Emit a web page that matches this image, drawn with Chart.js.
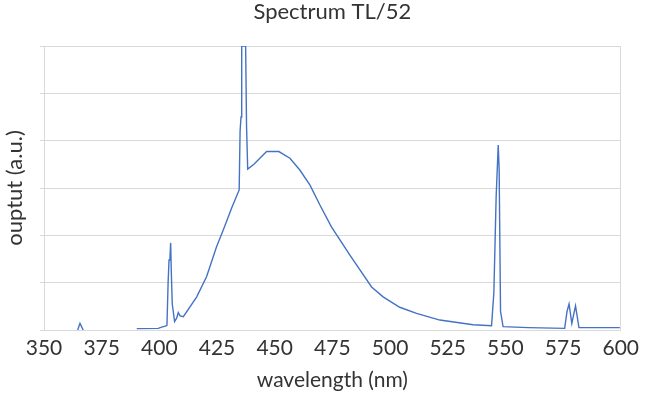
<!DOCTYPE html>
<html>
<head>
<meta charset="utf-8">
<script src="https://cdn.jsdelivr.net/npm/chart.js@4"></script>
<style>
    html, body { margin: 0; padding: 0; background: #fff; }
    #wrap { width: 645px; height: 398px; }
</style>
</head>
<body>
<div id="wrap"><canvas id="spectrumChart"></canvas></div>
<script>
// Spectrum TL/52
const wavelength = [
    364.6, 365.6, 367.0, 378,
    390.2, 399.5, 401.0, 402.6, 403.3, 403.8, 404.2, 404.6, 404.9, 405.2, 405.6, 406.6,
    407.5, 408.2, 409.0, 410.4, 416.2, 420.5, 424.8, 428.0, 431.3, 434.6,
    435.0, 435.4, 435.7, 437.4, 437.8, 438.3,
    441.0, 446.5, 451.8, 456.6, 460.9, 465.3, 469.6, 474.6, 482.6, 492.0, 497.0,
    504.2, 511.5, 521.6, 536.0, 544.0,
    545.0, 546.0, 546.9, 547.3, 547.9, 549.0, 560.0, 575.7,
    576.7, 577.6, 578.8, 580.4, 581.9, 599.6
];
const output = [
    0, 0.14, 0, null,
    0.03, 0.035, 0.06, 0.08, 0.10, 1.0, 1.48, 1.52, 1.84, 1.2, 0.55, 0.18,
    0.25, 0.37, 0.30, 0.28, 0.70, 1.13, 1.76, 2.15, 2.57, 2.96,
    4.2, 4.5, 6, 6, 4.3, 3.4,
    3.5, 3.77, 3.77, 3.63, 3.38, 3.06, 2.64, 2.18, 1.58, 0.91, 0.70,
    0.48, 0.35, 0.21, 0.11, 0.09,
    0.78, 2.82, 3.91, 3.38, 0.39, 0.07, 0.05, 0.035,
    0.39, 0.55, 0.14, 0.51, 0.05, 0.05
];
const xTicks = [350, 375, 400, 425, 450, 475, 500, 525, 550, 575, 600];
const yMax = 6;

const FONT = 'Lato, "Open Sans", sans-serif';
const TEXT = '#333333';
const GRID = '#d9d9d9';

const points = wavelength.map((w, i) => ({ x: w, y: output[i] }));

new Chart(document.getElementById('spectrumChart'), {
    type: 'line',
    data: {
        datasets: [{
            label: 'output',
            data: points,
            borderColor: '#4472c4',
            borderWidth: 1.4,
            pointRadius: 0,
            tension: 0,
            spanGaps: false,
            fill: false
        }]
    },
    options: {
        responsive: true,
        maintainAspectRatio: false,
        animation: false,
        layout: { padding: { left: 0, right: 24, top: 0, bottom: 0 } },
        plugins: {
            legend: { display: false },
            tooltip: { enabled: false },
            title: {
                display: true,
                fullSize: false,
                text: 'Spectrum TL/52',
                color: TEXT,
                font: { family: FONT, size: 22, weight: 'normal', lineHeight: 1 },
                padding: { top: 0.5, bottom: 23.5 }
            }
        },
        scales: {
            x: {
                type: 'linear',
                min: 350,
                max: 600,
                afterBuildTicks: scale => { scale.ticks = xTicks.map(v => ({ value: v })); },
                afterFit: scale => { scale.height = 68; },
                ticks: {
                    color: TEXT,
                    font: { family: FONT, size: 21 },
                    padding: 6,
                    maxRotation: 0
                },
                grid: {
                    drawTicks: false,
                    color: c => (c.tick && (c.tick.value === 600 || c.tick.value === 350)) ? GRID : 'rgba(0,0,0,0)'
                },
                border: { display: false },
                title: {
                    display: true,
                    text: 'wavelength (nm)',
                    color: TEXT,
                    font: { family: FONT, size: 21 },
                    padding: { top: 0, bottom: 5 }
                }
            },
            y: {
                min: 0,
                max: yMax,
                afterFit: scale => { scale.width = 44; },
                ticks: { display: false, stepSize: 1 },
                grid: { color: GRID, tickLength: 4, drawTicks: true },
                border: { display: true, color: GRID },
                title: {
                    display: true,
                    text: 'ouptut (a.u.)',
                    color: TEXT,
                    font: { family: FONT, size: 22 },
                    padding: { top: 1.5, bottom: 0 }
                }
            }
        }
    }
});
</script>
</body>
</html>
